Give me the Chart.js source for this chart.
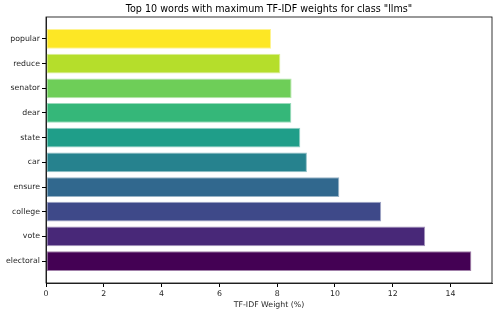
<!DOCTYPE html>
<html>
<head>
<meta charset="utf-8">
<script src="https://cdn.jsdelivr.net/npm/chart.js@4/dist/chart.umd.min.js"></script>
<style>
  html, body { margin: 0; padding: 0; background: #fff; }
  canvas { display: block; }
</style>
</head>
<body>
<canvas id="tfidfChart" width="498" height="314"></canvas>
<script>
// Top 10 words by TF-IDF weight, listed top to bottom as drawn
const words = ["popular", "reduce", "senator", "dear", "state", "car", "ensure", "college", "vote", "electoral"];
const weights = [7.79, 8.11, 8.50, 8.49, 8.80, 9.03, 10.15, 11.60, 13.12, 14.72];
const xTicks = [0, 2, 4, 6, 8, 10, 12, 14];
const chartTitle = 'Top 10 words with maximum TF-IDF weights for class "llms"';

// viridis, popular (top) -> electoral (bottom)
const VIRIDIS = ["#fde725", "#b5de2b", "#6ece58", "#35b779", "#1f9e89",
                 "#26828e", "#31688e", "#3e4989", "#482878", "#440154"];

const FONT = "'DejaVu Sans', sans-serif";
const INK = "#262626";

// matplotlib-style frame round the plot area, title centred over the axes
const frameBox = {
  id: "frameBox",
  afterDraw(chart) {
    const { ctx, chartArea: a } = chart;
    ctx.save();
    ctx.strokeStyle = "#000";
    ctx.lineWidth = 0.8;
    ctx.strokeRect(a.left, a.top, a.right - a.left, a.bottom - a.top);
    ctx.fillStyle = "#000";
    ctx.font = `9.6px ${FONT}`;
    ctx.textAlign = "center";
    ctx.textBaseline = "middle";
    ctx.fillText(chartTitle, (a.left + a.right) / 2, a.top - 7.5);
    ctx.restore();
  },
};

// bars sit on a numeric y axis so the plot keeps matplotlib's margins
const points = words.map((w, i) => ({ x: weights[i], y: i }));

new Chart(document.getElementById("tfidfChart").getContext("2d"), {
  type: "bar",
  data: {
    datasets: [{
      data: points,
      backgroundColor: VIRIDIS,
      borderColor: VIRIDIS.map((c) => c + "80"),
      borderWidth: 1,
      borderSkipped: false,
      categoryPercentage: 1,
      barPercentage: 0.8,
    }],
  },
  options: {
    indexAxis: "y",
    responsive: false,
    animation: false,
    layout: { padding: { top: 17, right: 6, bottom: 0, left: 0 } },
    plugins: {
      legend: { display: false },
      tooltip: { enabled: false },
      title: { display: false },
    },
    scales: {
      x: {
        type: "linear",
        min: 0,
        max: 15.435,
        afterBuildTicks: (scale) => { scale.ticks = xTicks.map((v) => ({ value: v })); },
        ticks: { color: INK, font: { family: FONT, size: 7.8 }, padding: 2, maxRotation: 0 },
        grid: { drawOnChartArea: false, drawTicks: true, tickLength: 4, color: "#000" },
        border: { color: "#000", width: 0.8 },
        title: {
          display: true,
          text: "TF-IDF Weight (%)",
          color: INK,
          font: { family: FONT, size: 7.8 },
          padding: { top: 2, bottom: 4 },
        },
        afterFit: (scale) => { scale.height = 31; },
      },
      y: {
        type: "linear",
        reverse: true,
        min: -0.89,
        max: 9.89,
        offset: false,
        afterBuildTicks: (scale) => { scale.ticks = words.map((w, i) => ({ value: i })); },
        ticks: {
          color: INK,
          font: { family: FONT, size: 7.8 },
          padding: 2,
          callback: (v) => words[v],
        },
        grid: { offset: false, drawOnChartArea: false, drawTicks: true, tickLength: 4, color: "#000" },
        border: { color: "#000", width: 0.8 },
        afterFit: (scale) => { scale.width = 46; },
      },
    },
  },
  plugins: [frameBox],
});
</script>
</body>
</html>
